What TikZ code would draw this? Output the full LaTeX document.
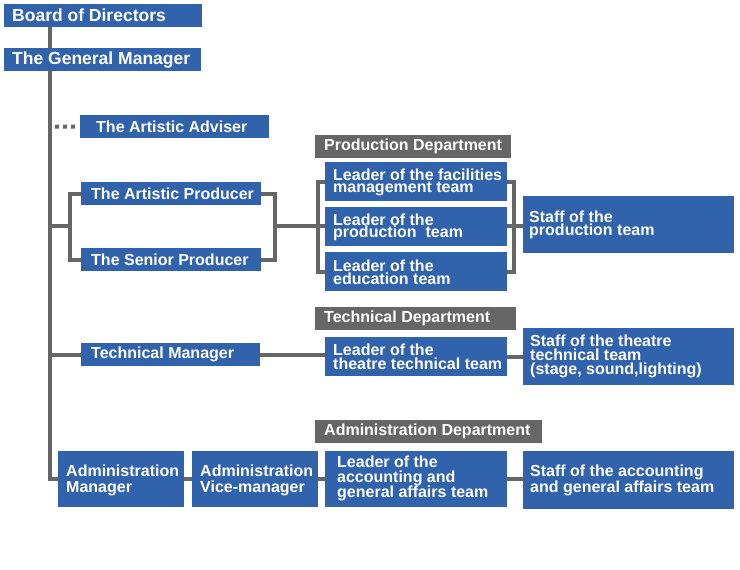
\documentclass[tikz,border=0pt]{standalone}
\usepackage{fontspec}
\setmainfont{Liberation Sans}
\usetikzlibrary{backgrounds}
\pgfdeclarelayer{paper}
\pgfsetlayers{paper,background,main}
\definecolor{boxblue}{RGB}{49,98,172}
\definecolor{deptgray}{RGB}{102,102,102}
\definecolor{linegray}{RGB}{102,102,102}
\tikzset{
  bx/.style={fill=boxblue, anchor=north west, inner sep=0pt},
  dept/.style={bx, fill=deptgray},
  tx/.style={text=white, anchor=west, inner sep=0pt, align=left,
    font=\bfseries\fontsize{16}{14}\selectfont},
  lead/.style={font=\bfseries\fontsize{16}{#1}\selectfont},
  toptx/.style={tx, font=\bfseries\fontsize{17.5}{16}\selectfont},
  conn/.style={draw=linegray, line width=4pt},
  dotconn/.style={draw=linegray, line width=4pt, dash pattern=on 4pt off 4pt},
  sz/.style 2 args={minimum width=#1pt, minimum height=#2pt},
}
\begin{document}
\begin{tikzpicture}[x=1pt,y=-1pt]
\begin{pgfonlayer}{paper}
\fill[white] (0,0) rectangle (740,570);
\end{pgfonlayer}
\useasboundingbox (0,0) rectangle (740,570);

% helper coordinates
\coordinate (trunk) at (50,27);
\coordinate (advstart) at (55,126.5);
\coordinate (jl) at (70,226);
\coordinate (jr) at (275,226);

% boxes
\node[bx,sz={198}{23}] (board) at (4,4) {};
\node[bx,sz={197}{23}] (gm) at (4,48) {};
\node[bx,sz={189}{23}] (adviser) at (80,115) {};
\node[bx,sz={180}{23}] (aprod) at (81,182) {};
\node[bx,sz={180}{23}] (sprod) at (81,248) {};

\node[dept,sz={196}{23}] (proddept) at (315,135) {};
\node[bx,sz={182}{39}] (lfac) at (325,162) {};
\node[bx,sz={182}{39}] (lprod) at (325,207) {};
\node[bx,sz={182}{39}] (ledu) at (325,252) {};
\node[bx,sz={211}{57}] (sprodteam) at (523,196) {};

\node[dept,sz={201}{23}] (techdept) at (315,307) {};
\node[bx,sz={179}{23}] (tm) at (81,343) {};
\node[bx,sz={182}{39}] (ltech) at (325,337) {};
\node[bx,sz={211}{57}] (stech) at (523,328) {};

\node[dept,sz={227}{23}] (admdept) at (315,420) {};
\node[bx,sz={126}{56}] (am) at (58,451) {};
\node[bx,sz={126}{56}] (avm) at (192,451) {};
\node[bx,sz={182}{56}] (lacc) at (325,451) {};
\node[bx,sz={211}{58}] (sacc) at (523,451) {};

% texts
\node[toptx] (board-t) at ([xshift=8pt]board.west) {Board of Directors};
\node[toptx] (gm-t) at ([xshift=8pt]gm.west) {The General Manager};
\node[tx] (adviser-t) at ([xshift=16pt]adviser.west) {The Artistic Adviser};
\node[tx] (aprod-t) at ([xshift=10pt]aprod.west) {The Artistic Producer};
\node[tx] (sprod-t) at ([xshift=10pt]sprod.west) {The Senior Producer};
\node[tx] (proddept-t) at ([xshift=9pt]proddept.west) {Production Department};
\node[tx,lead=12.5] (lfac-t) at ([xshift=8pt,yshift=-0.5pt]lfac.west) {Leader of the facilities\\management team};
\node[tx,lead=12.5] (lprod-t) at ([xshift=8pt,yshift=-0.5pt]lprod.west) {Leader of the\\production~ team};
\node[tx,lead=12.5] (ledu-t) at ([xshift=8pt,yshift=-0.5pt]ledu.west) {Leader of the\\education team};
\node[tx,lead=13.5] (sprodteam-t) at ([xshift=6pt,yshift=0pt]sprodteam.west) {Staff of the\\production team};
\node[tx] (techdept-t) at ([xshift=9pt]techdept.west) {Technical Department};
\node[tx] (tm-t) at ([xshift=10pt]tm.west) {Technical Manager};
\node[tx,lead=13.5] (ltech-t) at ([xshift=8pt]ltech.west) {Leader of the\\theatre technical team};
\node[tx,lead=14] (stech-t) at ([xshift=7pt]stech.west) {Staff of the theatre\\technical team\\(stage, sound,lighting)};
\node[tx] (admdept-t) at ([xshift=9pt]admdept.west) {Administration Department};
\node[tx,lead=16] (am-t) at ([xshift=8pt,yshift=-1pt]am.west) {Administration\\Manager};
\node[tx,lead=16] (avm-t) at ([xshift=8pt,yshift=-1pt]avm.west) {Administration\\Vice-manager};
\node[tx,lead=15] (lacc-t) at ([xshift=12pt,yshift=1pt]lacc.west) {Leader of the\\accounting and\\general affairs team};
\node[tx,lead=14] (sacc-t) at ([xshift=7pt]sacc.west) {Staff of the accounting\\and general affairs team};

% connectors (behind the boxes)
\begin{scope}[on background layer]
\draw[conn] (board.south -| trunk) |- (am.west);
\draw[dotconn] (advstart) -- ([xshift=-4pt]adviser.west);

\draw[conn] (jl -| trunk) -- (jl);
\draw[conn] (aprod.west) -| (jl) |- (sprod.west);
\draw[conn] (aprod.east) -| (jr) |- (sprod.east);
\draw[conn] (jr) -- (lprod.west |- jr);
\draw[conn] (lfac.west) -- ++(-7,0) |- (ledu.west);
\draw[conn] (lfac.east) -- ++(7,0) |- (ledu.east);
\draw[conn] (lprod.east |- jr) -- (sprodteam.west |- jr);

\draw[conn] (tm.west -| trunk) -- (tm.west);
\draw[conn] (tm.east) -- (ltech.west |- tm.east);
\draw[conn] (ltech.east) -- (stech.west |- ltech.east);

\draw[conn] (am.east) -- (avm.west);
\draw[conn] (avm.east) -- (lacc.west);
\draw[conn] (lacc.east) -- (sacc.west |- lacc.east);
\end{scope}
\end{tikzpicture}
\end{document}
